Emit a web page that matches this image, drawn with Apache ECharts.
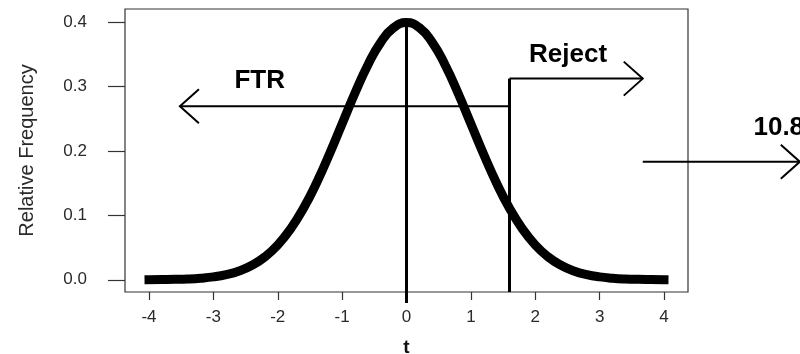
<!DOCTYPE html>
<html>
<head>
<meta charset="utf-8">
<script src="https://cdn.jsdelivr.net/npm/echarts@6/dist/echarts.min.js"></script>
<style>
  html, body { margin: 0; padding: 0; background: #fff; }
  #chart { width: 800px; height: 354px; }
</style>
</head>
<body>
<div id="chart"></div>
<script>
// Density curve of the test statistic t
const tValues = [-4.0, -3.8, -3.6, -3.4, -3.2, -3.0, -2.8, -2.6, -2.4, -2.2, -2.0,
                 -1.8, -1.6, -1.4, -1.2, -1.0, -0.8, -0.6, -0.4, -0.2, 0.0,
                 0.2, 0.4, 0.6, 0.8, 1.0, 1.2, 1.4, 1.6, 1.8, 2.0,
                 2.2, 2.4, 2.6, 2.8, 3.0, 3.2, 3.4, 3.6, 3.8, 4.0];
const density = [0.0001, 0.0003, 0.0006, 0.0012, 0.0024, 0.0044, 0.0079, 0.0136, 0.0224, 0.0355, 0.0540,
                 0.0790, 0.1109, 0.1497, 0.1942, 0.2420, 0.2897, 0.3332, 0.3683, 0.3910, 0.3989,
                 0.3910, 0.3683, 0.3332, 0.2897, 0.2420, 0.1942, 0.1497, 0.1109, 0.0790, 0.0540,
                 0.0355, 0.0224, 0.0136, 0.0079, 0.0044, 0.0024, 0.0012, 0.0006, 0.0003, 0.0001];

// Axis ticks
const xTicks = [-4, -3, -2, -1, 0, 1, 2, 3, 4];
const yTicks = [0, 0.1, 0.2, 0.3, 0.4];

// Vertical guide lines [x0, y0, x1, y1]: centre and critical value
const guides = [
  [0, -0.036, 0, 0.4],
  [1.6, -0.019, 1.6, 0.312]
];

// Decision arrows [fromX, fromY, toX, toY]
const arrows = [
  [1.6, 0.269, -3.52, 0.269],
  [1.6, 0.312, 3.67, 0.312],
  [3.67, 0.183, 6.11, 0.183]
];

// Region labels
const labelTexts = ['FTR', 'Reject', '10.8'];
const labelX = [-2.28, 2.51, 5.39];
const labelY = [0.308, 0.349, 0.236];
const labelAlign = ['center', 'center', 'left'];

const chart = echarts.init(document.getElementById('chart'), null, { renderer: 'canvas' });

const FONT = 'Arial, "Liberation Sans", Helvetica, sans-serif';

const option = {
  animation: false,
  backgroundColor: '#fff',
  grid: {
    left: 125, right: 112, top: 9, bottom: 62,
    outerBoundsMode: 'none',
    containLabel: false,
    show: true, borderColor: '#333', borderWidth: 1.2, backgroundColor: 'transparent'
  },
  xAxis: {
    type: 'value',
    min: -4.373, max: 4.373,
    name: 't', nameLocation: 'middle', nameGap: 46,
    nameTextStyle: { fontFamily: FONT, fontWeight: 'bold', fontSize: 19, color: '#111' },
    axisLine: { show: false, onZero: false },
    splitLine: { show: false },
    axisTick: { show: true, customValues: xTicks, length: 8, lineStyle: { color: '#333', width: 1.2 } },
    axisLabel: { customValues: xTicks, margin: 17, fontFamily: FONT, fontSize: 17, color: '#2a2a2a' }
  },
  yAxis: {
    type: 'value',
    min: -0.019, max: 0.42,
    name: 'Relative Frequency', nameLocation: 'middle', nameGap: 88,
    nameTextStyle: { fontFamily: FONT, fontSize: 20, color: '#2a2a2a' },
    axisLine: { show: false, onZero: false },
    splitLine: { show: false },
    axisTick: { show: true, customValues: yTicks, length: 17, lineStyle: { color: '#333', width: 1.2 } },
    axisLabel: { customValues: yTicks, margin: 38, fontFamily: FONT, fontSize: 17, color: '#2a2a2a',
                 formatter: v => v.toFixed(1) }
  },
  series: [
    {
      type: 'line',
      data: tValues.map((t, i) => [t, density[i]]),
      smooth: true,
      showSymbol: false,
      symbol: 'none',
      lineStyle: { color: '#000', width: 9, cap: 'square', join: 'round' },
      z: 3
    },
    {
      type: 'custom',
      clip: false,
      data: guides,
      encode: { x: [0, 2], y: [1, 3] },
      renderItem: (params, api) => {
        const a = api.coord([api.value(0), api.value(1)]);
        const b = api.coord([api.value(2), api.value(3)]);
        return {
          type: 'line',
          shape: { x1: a[0], y1: a[1], x2: b[0], y2: b[1] },
          style: { stroke: '#000', lineWidth: 3 }
        };
      },
      z: 4
    },
    {
      type: 'custom',
      clip: false,
      data: arrows,
      encode: { x: [0, 2], y: [1, 3] },
      renderItem: (params, api) => {
        const a = api.coord([api.value(0), api.value(1)]);
        const b = api.coord([api.value(2), api.value(3)]);
        const dx = b[0] - a[0], dy = b[1] - a[1];
        const len = Math.sqrt(dx * dx + dy * dy) || 1;
        const ux = dx / len, uy = dy / len;
        const back = 19, half = 17;
        const p1 = [b[0] - ux * back - uy * half, b[1] - uy * back + ux * half];
        const p2 = [b[0] - ux * back + uy * half, b[1] - uy * back - ux * half];
        return {
          type: 'group',
          children: [
            { type: 'line', shape: { x1: a[0], y1: a[1], x2: b[0], y2: b[1] },
              style: { stroke: '#000', lineWidth: 2 } },
            { type: 'polyline', shape: { points: [p1, b, p2] },
              style: { stroke: '#000', lineWidth: 2, fill: null } }
          ]
        };
      },
      z: 4
    },
    {
      type: 'custom',
      clip: false,
      data: labelTexts.map((s, i) => [labelX[i], labelY[i], i]),
      renderItem: (params, api) => {
        const i = api.value(2);
        const p = api.coord([api.value(0), api.value(1)]);
        return {
          type: 'text',
          x: p[0], y: p[1],
          style: {
            text: labelTexts[i],
            font: 'bold 26px ' + FONT,
            fill: '#000',
            align: labelAlign[i],
            verticalAlign: 'middle'
          }
        };
      },
      z: 5
    }
  ]
};

chart.setOption(option);
</script>
</body>
</html>
